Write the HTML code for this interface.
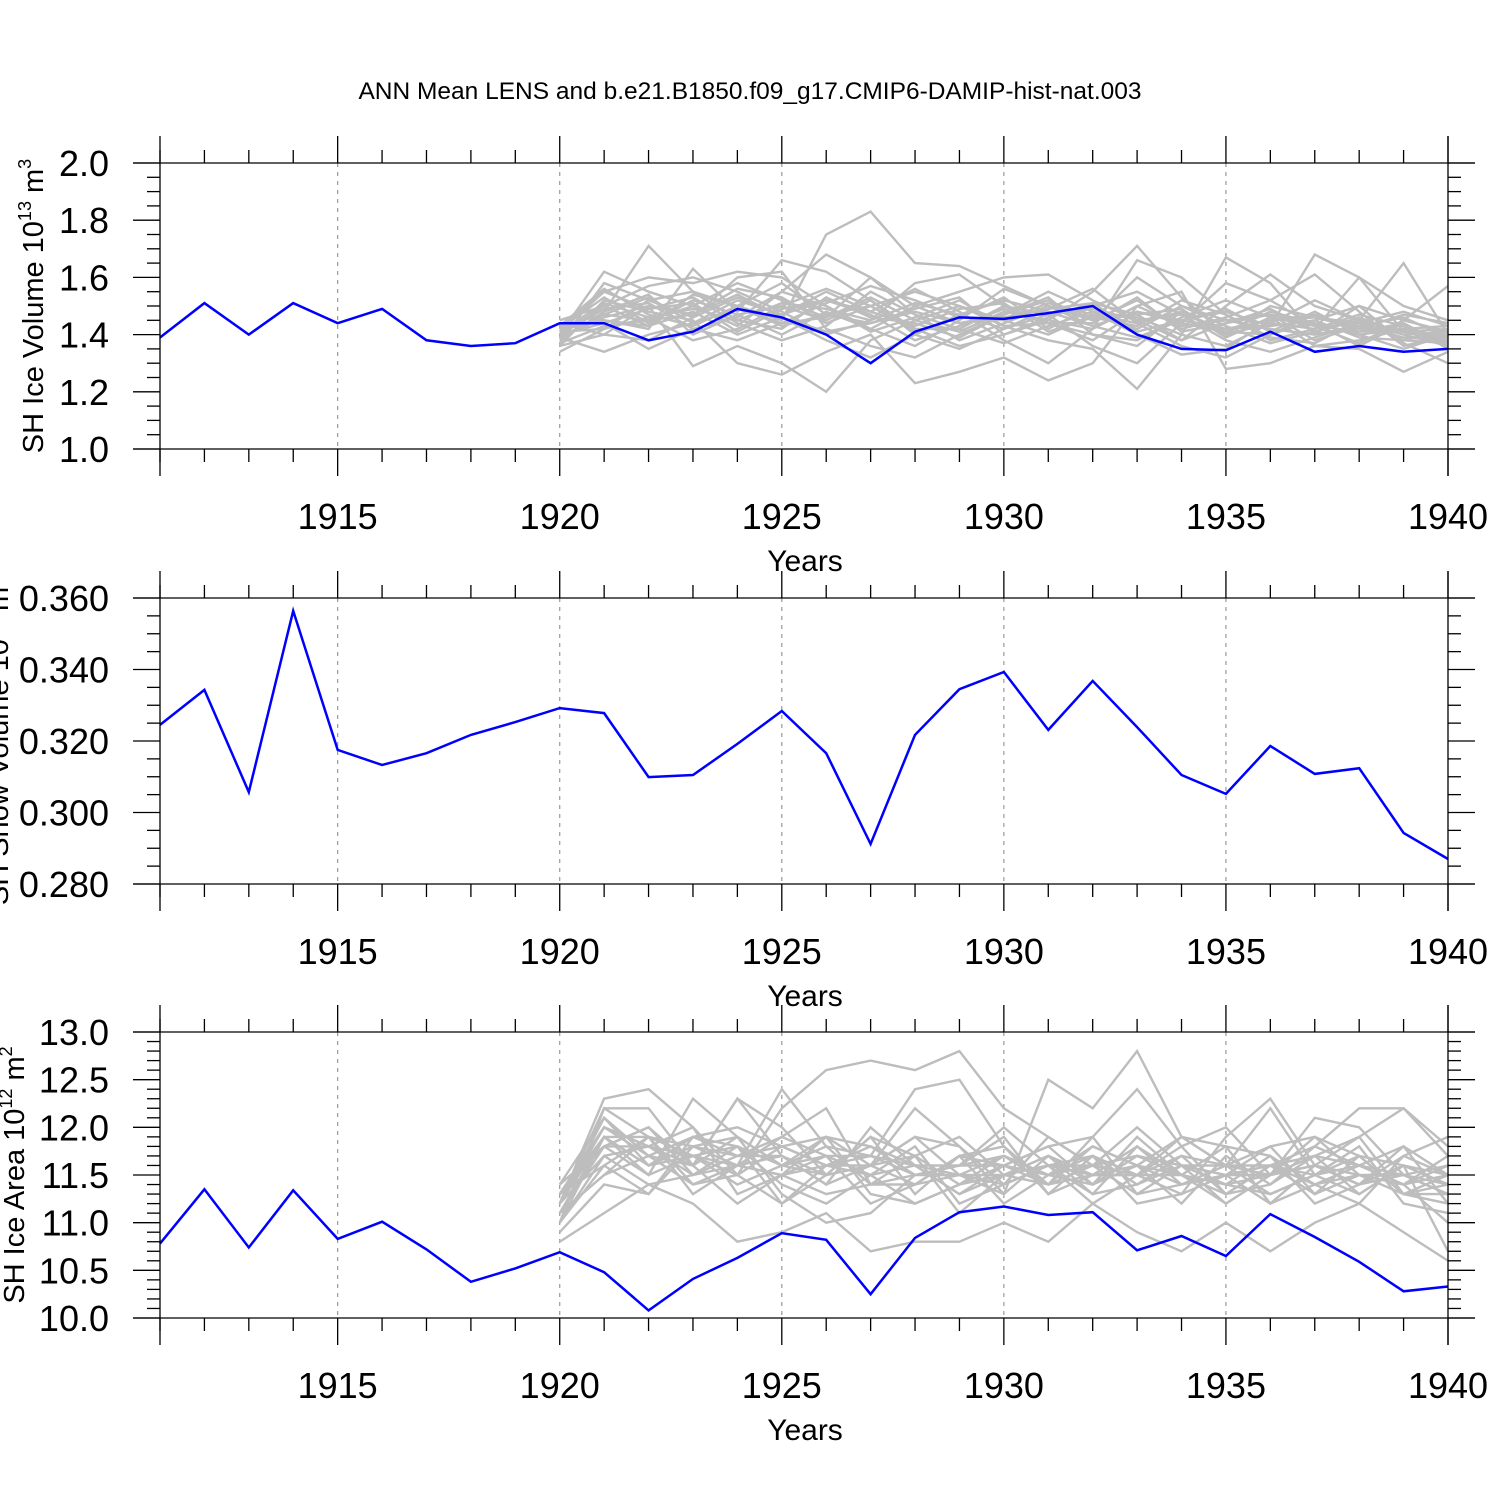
<!DOCTYPE html>
<html><head><meta charset="utf-8">
<style>
html,body{margin:0;padding:0;background:#fff;}
svg{display:block;font-family:"Liberation Sans",Arial,sans-serif;}
</style></head>
<body>
<svg id="chart" width="1500" height="1500" viewBox="0 0 1500 1500" xmlns="http://www.w3.org/2000/svg">
<text x="750" y="99" text-anchor="middle" font-size="24.5">ANN Mean LENS and b.e21.B1850.f09_g17.CMIP6-DAMIP-hist-nat.003</text>
</svg>
<script>
const years = [1911,1912,1913,1914,1915,1916,1917,1918,1919,1920,1921,1922,1923,1924,1925,1926,1927,1928,1929,1930,1931,1932,1933,1934,1935,1936,1937,1938,1939,1940];
const ensYears = [1920,1921,1922,1923,1924,1925,1926,1927,1928,1929,1930,1931,1932,1933,1934,1935,1936,1937,1938,1939,1940];
const xTicks = [1915,1920,1925,1930,1935,1940];

const volBlue = [1.39,1.51,1.40,1.51,1.44,1.49,1.38,1.36,1.37,1.44,1.44,1.38,1.41,1.49,1.46,1.40,1.30,1.41,1.46,1.455,1.475,1.50,1.40,1.35,1.345,1.41,1.34,1.36,1.34,1.35];
const snowBlue = [0.3245,0.3343,0.3057,0.3564,0.3175,0.3133,0.3166,0.3217,0.3253,0.3292,0.3278,0.3099,0.3105,0.3192,0.3284,0.3166,0.2912,0.3217,0.3345,0.3393,0.3231,0.3368,0.3239,0.3105,0.3052,0.3186,0.3108,0.3124,0.2943,0.287];
const areaBlue = [10.78,11.35,10.74,11.34,10.83,11.01,10.72,10.38,10.52,10.69,10.48,10.08,10.41,10.63,10.89,10.82,10.25,10.84,11.11,11.17,11.08,11.11,10.71,10.86,10.65,11.09,10.85,10.59,10.28,10.33];

const volEns = [
[1.40,1.62,1.55,1.50,1.58,1.52,1.46,1.60,1.50,1.44,1.47,1.52,1.45,1.60,1.50,1.45,1.47,1.44,1.40,1.42,1.38],
[1.38,1.48,1.71,1.55,1.50,1.45,1.75,1.83,1.65,1.64,1.57,1.50,1.43,1.48,1.45,1.42,1.43,1.68,1.60,1.41,1.37],
[1.42,1.45,1.42,1.63,1.48,1.66,1.62,1.52,1.42,1.36,1.40,1.45,1.55,1.71,1.53,1.40,1.44,1.52,1.45,1.65,1.40],
[1.44,1.40,1.50,1.29,1.36,1.30,1.20,1.38,1.45,1.50,1.43,1.38,1.35,1.21,1.40,1.67,1.58,1.40,1.50,1.45,1.57],
[1.36,1.52,1.48,1.45,1.30,1.26,1.34,1.40,1.23,1.27,1.32,1.24,1.30,1.50,1.55,1.28,1.30,1.36,1.35,1.27,1.34],
[1.41,1.55,1.60,1.58,1.62,1.60,1.50,1.42,1.50,1.55,1.60,1.61,1.52,1.45,1.38,1.50,1.61,1.50,1.45,1.38,1.42],
[1.39,1.34,1.40,1.44,1.52,1.47,1.55,1.48,1.56,1.48,1.38,1.30,1.42,1.66,1.60,1.47,1.38,1.42,1.60,1.50,1.45],
[1.43,1.47,1.45,1.50,1.43,1.55,1.68,1.60,1.47,1.42,1.50,1.47,1.36,1.30,1.44,1.58,1.52,1.61,1.48,1.36,1.40],
[1.37,1.58,1.52,1.46,1.60,1.62,1.42,1.36,1.32,1.40,1.47,1.55,1.48,1.40,1.33,1.35,1.45,1.47,1.41,1.44,1.36],
[1.40,1.44,1.35,1.42,1.38,1.44,1.51,1.57,1.52,1.46,1.53,1.42,1.50,1.55,1.47,1.38,1.34,1.39,1.44,1.48,1.43],
[1.45,1.50,1.57,1.60,1.55,1.48,1.40,1.45,1.58,1.61,1.50,1.44,1.40,1.38,1.46,1.52,1.46,1.36,1.38,1.42,1.39],
[1.34,1.42,1.46,1.38,1.42,1.50,1.45,1.52,1.40,1.35,1.42,1.49,1.56,1.44,1.36,1.32,1.40,1.45,1.50,1.37,1.30],
[1.42,1.53,1.44,1.52,1.47,1.40,1.48,1.42,1.36,1.45,1.56,1.50,1.45,1.52,1.42,1.46,1.52,1.43,1.37,1.45,1.41],
[1.39,1.46,1.50,1.47,1.56,1.53,1.44,1.50,1.55,1.50,1.45,1.40,1.47,1.42,1.50,1.43,1.37,1.41,1.46,1.40,1.36],
[1.41,1.42,1.52,1.55,1.45,1.42,1.53,1.46,1.44,1.39,1.47,1.53,1.40,1.36,1.48,1.40,1.50,1.46,1.42,1.47,1.44],
[1.43,1.56,1.47,1.43,1.50,1.58,1.47,1.44,1.49,1.53,1.40,1.46,1.51,1.47,1.38,1.44,1.47,1.38,1.43,1.39,1.38],
[1.40,1.50,1.43,1.48,1.40,1.46,1.38,1.32,1.40,1.47,1.52,1.48,1.43,1.39,1.45,1.49,1.41,1.48,1.40,1.35,1.40],
[1.38,1.48,1.54,1.40,1.47,1.50,1.56,1.50,1.42,1.42,1.37,1.43,1.48,1.46,1.40,1.36,1.44,1.42,1.47,1.43,1.37],
[1.44,1.44,1.49,1.53,1.44,1.38,1.43,1.55,1.47,1.38,1.44,1.50,1.46,1.43,1.52,1.47,1.39,1.37,1.45,1.41,1.42],
[1.36,1.40,1.38,1.46,1.53,1.47,1.52,1.47,1.38,1.43,1.49,1.44,1.38,1.48,1.44,1.41,1.48,1.44,1.36,1.44,1.35],
[1.41,1.51,1.46,1.49,1.45,1.51,1.49,1.45,1.51,1.47,1.42,1.47,1.49,1.45,1.47,1.42,1.45,1.46,1.44,1.40,1.41],
[1.39,1.47,1.53,1.44,1.49,1.44,1.46,1.53,1.45,1.41,1.48,1.45,1.42,1.50,1.43,1.45,1.42,1.40,1.43,1.46,1.39],
[1.42,1.55,1.49,1.51,1.41,1.49,1.52,1.48,1.43,1.49,1.51,1.41,1.46,1.47,1.49,1.39,1.46,1.43,1.41,1.42,1.43],
[1.37,1.43,1.45,1.47,1.54,1.46,1.41,1.44,1.48,1.44,1.46,1.49,1.51,1.41,1.45,1.48,1.43,1.45,1.39,1.38,1.37],
[1.40,1.49,1.51,1.42,1.46,1.55,1.50,1.41,1.46,1.52,1.43,1.44,1.44,1.53,1.41,1.44,1.49,1.41,1.45,1.41,1.40],
[1.43,1.45,1.43,1.54,1.50,1.43,1.47,1.50,1.41,1.46,1.45,1.51,1.47,1.44,1.48,1.41,1.40,1.47,1.42,1.43,1.38]
];
const areaEns = [
[11.2,12.3,12.4,12.0,11.5,12.2,12.6,12.7,12.6,12.8,12.2,11.9,11.6,12.0,11.6,11.5,11.6,11.8,12.2,12.2,11.8],
[11.0,12.2,12.2,11.6,12.3,12.0,11.5,11.6,11.9,11.5,11.3,12.5,12.2,12.8,11.9,11.6,12.2,11.5,11.3,11.6,11.4],
[11.4,11.8,11.5,12.3,11.9,11.6,11.9,11.3,11.2,11.4,11.7,11.4,11.9,12.4,11.8,12.0,11.5,12.1,12.0,11.5,11.3],
[10.8,11.1,11.4,11.2,10.8,10.9,11.1,10.7,10.8,10.8,11.0,10.8,11.2,10.9,10.7,11.0,10.7,11.0,11.2,10.9,10.6],
[11.1,11.5,11.9,11.7,11.6,11.7,11.4,12.0,11.6,11.3,11.6,11.8,11.4,11.7,11.5,11.2,11.5,11.6,11.4,11.7,11.9],
[11.3,11.9,11.6,11.9,12.0,11.8,11.9,11.6,12.2,11.8,11.4,11.6,11.7,11.5,11.9,11.6,11.8,11.9,11.7,11.3,11.5],
[11.2,12.0,11.7,11.4,11.5,11.2,11.6,11.8,11.5,11.6,11.9,11.3,11.5,11.8,11.4,11.5,11.2,11.4,11.6,11.8,11.2],
[11.0,11.7,11.8,11.6,11.2,11.5,11.3,11.4,11.7,11.9,11.5,11.7,11.3,11.4,11.7,11.3,11.6,11.3,11.5,11.4,11.7],
[11.3,11.6,11.3,11.8,11.7,11.9,11.7,11.2,11.4,11.5,11.7,11.5,11.8,11.6,11.2,11.7,11.4,11.7,11.3,11.6,11.4],
[11.1,11.8,12.0,11.5,11.8,11.4,11.2,11.5,11.8,11.2,11.4,11.9,11.6,11.3,11.6,11.4,11.3,11.5,11.8,11.2,11.1],
[11.2,11.9,11.5,11.7,11.4,11.6,11.5,11.9,11.3,11.7,11.2,11.5,11.4,11.9,11.5,11.8,11.7,11.2,11.4,11.5,11.6],
[11.0,11.6,11.9,11.3,11.6,12.4,11.8,11.7,12.4,12.5,11.8,11.3,11.7,11.2,11.3,11.9,12.3,11.6,11.9,12.2,11.7],
[11.4,12.1,11.6,11.8,11.9,11.3,11.0,11.1,11.5,11.6,12.0,11.6,11.2,11.5,11.8,11.3,11.4,11.8,11.6,11.4,11.0],
[11.2,11.7,11.4,11.5,11.7,11.8,11.6,11.5,11.2,11.4,11.6,11.8,11.9,11.3,11.4,11.6,11.6,11.4,11.2,11.7,11.5],
[11.3,11.8,11.8,12.0,11.3,11.5,11.9,11.8,11.6,11.3,11.5,11.4,11.6,11.7,11.6,11.2,11.5,11.9,11.5,11.3,11.3],
[11.1,11.5,11.7,11.6,12.3,11.7,11.4,11.6,11.9,11.8,11.3,11.7,11.5,11.5,11.3,11.5,11.8,11.3,11.7,11.6,10.7],
[11.2,12.2,11.9,11.4,11.6,11.9,12.2,11.4,11.4,11.7,11.8,11.4,11.8,11.6,11.9,11.8,11.2,11.6,11.4,11.8,11.5],
[10.9,11.4,11.3,11.9,11.8,11.2,11.5,11.9,11.7,11.1,11.5,11.6,11.3,11.8,11.5,11.4,11.5,11.7,11.9,11.3,11.4],
[11.3,12.0,11.8,11.7,11.8,11.6,11.7,11.5,11.6,11.6,11.6,11.5,11.6,11.7,11.6,11.5,11.6,11.5,11.6,11.5,11.3],
[11.1,11.9,11.9,11.8,11.6,11.5,11.6,11.7,11.5,11.5,11.4,11.6,11.5,11.5,11.7,11.6,11.5,11.6,11.4,11.6,11.5],
[11.2,12.1,11.7,11.9,11.7,11.7,11.5,11.6,11.7,11.4,11.5,11.7,11.4,11.6,11.5,11.4,11.7,11.4,11.5,11.4,11.6],
[11.4,11.8,12.0,11.6,11.9,11.6,11.8,11.4,11.5,11.6,11.7,11.5,11.7,11.4,11.6,11.6,11.3,11.5,11.7,11.3,11.2],
[11.0,11.9,11.6,11.7,11.5,11.8,11.6,11.6,11.4,11.7,11.6,11.4,11.5,11.6,11.4,11.5,11.5,11.6,11.5,11.5,11.4],
[11.3,12.0,11.8,11.5,11.6,11.5,11.7,11.7,11.6,11.5,11.5,11.6,11.6,11.5,11.5,11.3,11.6,11.7,11.6,11.4,11.5]
];

const volTicks = ["1.0","1.2","1.4","1.6","1.8","2.0"];
const snowTicks = ["0.280","0.300","0.320","0.340","0.360"];
const areaTicks = ["10.0","10.5","11.0","11.5","12.0","12.5","13.0"];

const NS = "http://www.w3.org/2000/svg";
const svg = document.getElementById('chart');
const X0 = 160, X1 = 1448;
function xs(y){ return X0 + (y - 1911) / (1940 - 1911) * (X1 - X0); }
function mk(tag, attrs, parent){
  const e = document.createElementNS(NS, tag);
  for (const k in attrs) e.setAttribute(k, attrs[k]);
  (parent || svg).appendChild(e);
  return e;
}

function panel(opt){
  const g = mk('g', {});
  
  
  const top = opt.top, bot = opt.top + 286;
  const ys = v => bot - (v - opt.min) / (opt.max - opt.min) * (bot - top);
  xTicks.slice(0, 5).forEach(t => {
    const l = mk('line', {x1: xs(t), x2: xs(t), y1: top, y2: bot, stroke: '#999', 'stroke-width': 1.2, 'stroke-dasharray': '4,5'}, g);
    
    
  });
  if (opt.ens) {
    opt.ens.forEach(m => {
      const pts = m.map((v, i) => xs(ensYears[i]).toFixed(1) + ',' + ys(v).toFixed(1)).join(' ');
      const p = mk('polyline', {points: pts, fill: 'none', stroke: '#bdbdbd', 'stroke-width': 2.4}, g);
      
      
    });
  }
  const bpts = opt.blue.map((v, i) => xs(years[i]).toFixed(1) + ',' + ys(v).toFixed(1)).join(' ');
  const bl = mk('polyline', {points: bpts, fill: 'none', stroke: '#0000ff', 'stroke-width': 2.5}, g);
  
  
  const ax = mk('g', {stroke: '#000', 'stroke-width': 1.3}, g);
  
  
  mk('line', {x1: 133, x2: 1475, y1: top, y2: top}, ax);
  mk('line', {x1: 133, x2: 1475, y1: bot, y2: bot}, ax);
  mk('line', {x1: X0, x2: X0, y1: top - 27, y2: bot + 27}, ax);
  mk('line', {x1: X1, x2: X1, y1: top - 27, y2: bot + 27}, ax);
  for (let y = 1911; y <= 1940; y++) {
    const major = y % 5 === 0;
    const L = major ? 27 : 13;
    mk('line', {x1: xs(y), x2: xs(y), y1: top - L, y2: top}, ax);
    mk('line', {x1: xs(y), x2: xs(y), y1: bot, y2: bot + L}, ax);
  }
  const nMinor = Math.round((opt.max - opt.min) / opt.minor);
  for (let i = 0; i <= nMinor; i++) {
    const v = opt.min + i * opt.minor;
    const yy = ys(v);
    const ratio = (v - opt.min) / opt.major;
    const major = Math.abs(ratio - Math.round(ratio)) < 1e-6;
    const L = major ? 27 : 13;
    mk('line', {x1: X0 - L, x2: X0, y1: yy, y2: yy}, ax);
    mk('line', {x1: X1, x2: X1 + L, y1: yy, y2: yy}, ax);
  }
  opt.ticks.forEach(t => {
    const tx = mk('text', {x: 109, y: ys(parseFloat(t)) + 13, 'text-anchor': 'end', 'font-size': 36}, g);
    tx.textContent = t;
    
    
  });
  xTicks.forEach(t => {
    const tx = mk('text', {x: xs(t), y: bot + 80, 'text-anchor': 'middle', 'font-size': 36}, g);
    tx.textContent = t;
    
    
  });
  const xt = mk('text', {x: 805, y: bot + 122, 'text-anchor': 'middle', 'font-size': 30}, g);
  xt.textContent = 'Years';
  
  
  const yt = mk('text', {x: 0, y: 0, 'text-anchor': 'middle', 'font-size': 29, transform: 'translate(' + opt.lx + ',' + (top + 143) + ') rotate(-90)'}, g);
  
  
  const t1 = mk('tspan', {}, yt); t1.textContent = opt.label + ' 10';
  const t2 = mk('tspan', {dy: -12, 'font-size': 18}, yt); t2.textContent = opt.exp1;
  const t3 = mk('tspan', {dy: 12}, yt); t3.textContent = ' m';
  const t4 = mk('tspan', {dy: -12, 'font-size': 18}, yt); t4.textContent = opt.exp2;
}

panel({name: 'ice-volume-panel', top: 163, min: 1.0, max: 2.0, major: 0.2, minor: 0.05, ticks: volTicks, blue: volBlue, ens: volEns, label: 'SH Ice Volume', exp1: '13', exp2: '3', lx: 43});
panel({name: 'snow-volume-panel', top: 598, min: 0.28, max: 0.36, major: 0.02, minor: 0.005, ticks: snowTicks, blue: snowBlue, ens: null, label: 'SH Snow Volume', exp1: '13', exp2: '3', lx: 8});
panel({name: 'ice-area-panel', top: 1032, min: 10.0, max: 13.0, major: 0.5, minor: 0.1, ticks: areaTicks, blue: areaBlue, ens: areaEns, label: 'SH Ice Area', exp1: '12', exp2: '2', lx: 24});
</script>
</body></html>
